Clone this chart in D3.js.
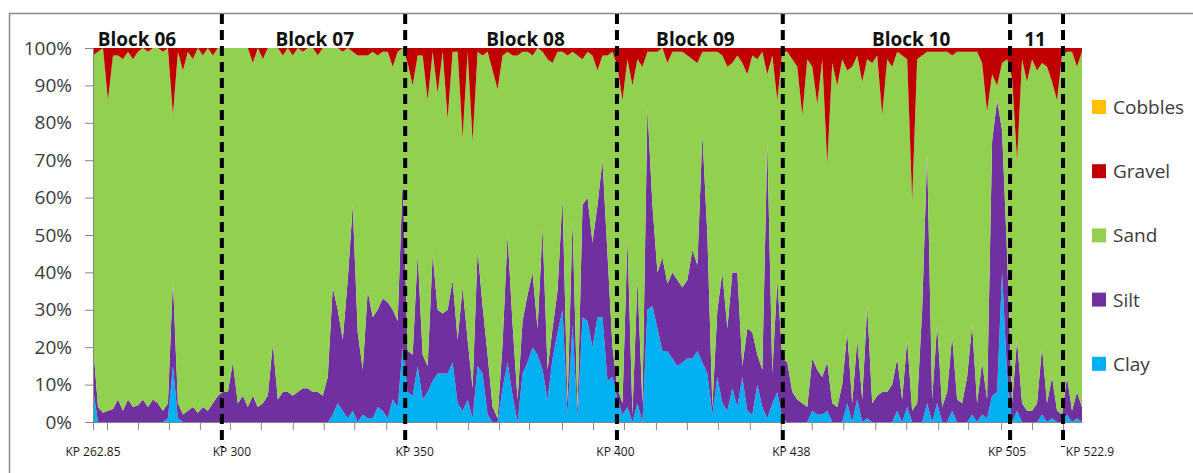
<!DOCTYPE html>
<html>
<head>
<meta charset="utf-8">
<script src="https://cdnjs.cloudflare.com/ajax/libs/d3/7.8.5/d3.min.js"></script>
<style>
    body { margin: 0; background: #fff; }
    #chart-area { width: 1193px; height: 473px; }
    text { font-family: "Open Sans", sans-serif; }
</style>
</head>
<body>
<div id="chart-area"></div>
<script>

// grain size fractions (%) per sample along the route
var clay = [9,0,0,0,0,0,0,0,0,0, 0,0,0,0,0,1,15,1,0,0, 0,0,0,0,0,0,0,0,0,0,
    0,0,0,0,0,0,0,0,0,0, 0,0,0,0,0,0,0,0,2,5, 3,1,3,0,2,1,1,4,3,1,
    6,4,20,8,7,15,6,8,11,13, 13,13,16,5,3,6,1,15,13,2, 0,0,9,16,7,0,13,16,20,18,
    14,6,17,24,30,2,26,1,28,27, 20,28,28,11,12,6,2,4,0,5, 0,30,31,25,19,19,17,15,16,17,
    17,19,16,13,2,12,5,3,9,4, 12,3,2,10,4,1,5,8,1,0, 0,0,0,0,3,2,2,3,0,0,
    0,5,0,6,0,1,0,0,0,0, 0,3,0,4,0,0,0,5,0,5, 0,0,3,0,0,0,2,0,2,1,
    7,8,40,13,0,3,0,0,0,0, 2,0,1,0,0,2,0,1,0];

var silt = [12,4,2.5,3,3.5,6,3,6,4,4.5, 6,4,6,5,3,4,23,4,2,3, 4,2.5,4,3,5,7,8,8,16,5,
    7,4,7,4,5,7,21,6,8,8, 7,8,9,9,8,8,7,12,34,25, 19,37,55,24,12,34,27,26,30,31,
    24,23,45,11,11,30,12,7,34,17, 16,17,22,17,33,16,8,31,18,16, 4,1,12,34,19,6,14,18,20,7,
    38,8,8,11,30,3,28,2,30,33, 28,30,42,34,8,3,3,45,2,33, 5,54,27,15,25,18,23,23,20,21,
    29,23,61,37,2,18,35,22,31,36, 3,22,22,8,10,74,8,30,16,16, 8,6,5,4,14,12,10,13,5,4,
    10,19,5,16,6,30,5,7,8,8, 10,14,6,18,3,5,30,67,6,21, 4,8,20,6,5,12,24,5,14,5,
    68,78,38,32,5,19,5,3,3,5, 18,5,11,3,2,10,3,7,4];

var sand = [77,95,97.5,83,94.5,92,94,93,93,94.5, 94,95,94,95,96,95,44,94,92,96, 93,97.5,94,97,93,93,92,92,84,95,
    93,96,89,96,92,93,79,94,90,92, 91,92,90,91,92,90,93,88,64,70, 77,62,41,74,84,63,71,68,66,67,
    65,72,35,77,72,53,80,71,54,58, 70,51,61,77,40,77,66,53,67,81, 90,88,77,49,72,92,72,65,58,75,
    47,83,71,64,39,93,45,95,39,39, 50,36,28,53,79,86,81,48,88,59, 90,15,41,59,56,59,59,61,63,60,
    51,54,22,49,95,69,58,70,56,58, 81,68,74,79,85,18,85,48,82,83, 89,89,77,93,78,71,85,53,91,86,
    87,70,90,76,85,66,91,91,74,89, 85,82,92,75,56,92,68,27,93,73, 95,91,75,93,94,87,73,94,80,77,
    18,4,18,52,87,48,92,88,94,89, 76,90,79,83,96,87,96,87,95];

var gravel = [2,1,0,14,2,2,3,1,3,1, 0,1,0,0,1,0,18,1,6,1, 3,0,2,0,2,0,0,0,0,0,
    0,0,4,0,3,0,0,0,2,0, 2,0,1,0,0,2,0,0,0,0, 1,0,1,2,2,2,1,2,1,1,
    5,1,0,4,10,2,2,14,1,12, 1,19,1,1,24,1,25,1,2,1, 6,11,2,1,2,2,1,1,2,0,
    1,3,4,1,1,2,1,2,3,1, 2,6,2,2,1,5,14,3,10,3, 5,1,1,1,0,4,1,1,1,2,
    3,4,1,1,1,1,2,5,4,2, 4,7,2,3,1,7,2,14,1,1, 3,5,18,3,5,15,3,31,4,10,
    3,6,5,2,9,3,4,2,18,3, 5,1,2,3,41,3,2,1,1,1, 1,1,2,1,1,1,1,1,4,17,
    7,10,4,3,8,30,3,9,3,6, 4,5,9,14,2,1,1,5,1];

var seriesKeys = ["clay", "silt", "sand", "gravel"];
var legendKeys = ["cobbles", "gravel", "sand", "silt", "clay"];
var legendLabels = ["Cobbles", "Gravel", "Sand", "Silt", "Clay"];
var yTicks = [0, 0.1, 0.2, 0.3, 0.4, 0.5, 0.6, 0.7, 0.8, 0.9, 1];

// sample positions of the category tick marks, the block boundaries and their labels
var axisTicks = [0, 2.8, 9, 15.2, 21.4, 27.4, 33.6, 40, 46.2, 52.3, 58.7, 68.7, 75.1, 81.3, 87.3, 93.9,
    100.1, 106.3, 112.7, 118.9, 125.1, 131.5, 137.7, 143.9, 150.2, 156.6, 162.8, 169.2, 175.2, 181.8, 188, 194.2];
var kpLines = [25.8, 62.5, 104.9, 138.1, 183.6, 194.2];
var kpLabels = ["KP 262.85", "KP 300", "KP 350", "KP 400", "KP 438", "KP 505", "KP 522.9"];
var kpLabelAt = [0, 27.8, 64.4, 104.6, 139.8, 183, 199.6];
var blockLabels = ["Block 06", "Block 07", "Block 08", "Block 09", "Block 10", "11"];
var blockAt = [8.8, 44.4, 86.6, 120.6, 163.8, 188.6];

var colors = {
    cobbles: "#FFC000",
    gravel: "#C00000",
    sand: "#92D050",
    silt: "#7030A0",
    clay: "#00B0F0"
};


SedimentChart = function(_parentElement) {
    this.parentElement = _parentElement;

    this.margin = { top: 48, right: 111, bottom: 51, left: 93 };
    this.width = 1193 - this.margin.left - this.margin.right;
    this.height = 473 - this.margin.top - this.margin.bottom;

    this.initVis();
}

/*
 *  Initialize svg, scales and frame
 */

SedimentChart.prototype.initVis = function() {
    var vis = this;

    vis.svg = d3.select("#" + vis.parentElement).append("svg")
        .attr("width", 1193)
        .attr("height", 473);

    // outer frame of the pasted figure
    vis.svg.append("path")
        .attr("d", "M9.5,473V13.5H1193")
        .attr("fill", "none")
        .attr("stroke", "#8a8a8a")
        .attr("stroke-width", 1.5);

    vis.g = vis.svg.append("g")
        .attr("transform", "translate(" + vis.margin.left + "," + vis.margin.top + ")");

    vis.x = d3.scaleLinear()
        .domain([0, clay.length - 1])
        .range([0, vis.width]);

    vis.y = d3.scaleLinear()
        .domain([0, 1])
        .range([vis.height, 0]);

    vis.wrangleData();
}

/*
 *  Data wrangling
 */

SedimentChart.prototype.wrangleData = function() {
    var vis = this;

    vis.displayData = clay.map(function(d, i) {
        return { clay: clay[i], silt: silt[i], sand: sand[i], gravel: gravel[i] };
    });

    vis.stacked = d3.stack()
        .keys(seriesKeys)
        .offset(d3.stackOffsetExpand)(vis.displayData);

    vis.updateVis();
}

/*
 *  The drawing function
 */

SedimentChart.prototype.updateVis = function() {
    var vis = this;

    var area = d3.area()
        .x(function(d, i) { return vis.x(i); })
        .y0(function(d) { return vis.y(d[0]); })
        .y1(function(d) { return vis.y(d[1]); });

    vis.g.selectAll(".layer")
        .data(vis.stacked)
        .enter()
        .append("path")
        .attr("class", "layer")
        .attr("fill", function(d) { return colors[d.key]; })
        .attr("d", area);

    // y axis
    var yAxis = d3.axisLeft(vis.y)
        .tickValues(yTicks)
        .tickFormat(d3.format(".0%"))
        .tickSize(8)
        .tickPadding(13);

    var yg = vis.g.append("g").call(yAxis);
    yg.select(".domain").attr("stroke", "#868686");
    yg.selectAll(".tick line").attr("stroke", "#868686");
    yg.selectAll(".tick text")
        .attr("fill", "#3b3b3b")
        .style("font-size", "19px");

    // category axis, no labels
    var xAxis = d3.axisBottom(vis.x)
        .tickValues(axisTicks)
        .tickFormat("")
        .tickSize(8)
        .tickSizeOuter(0);

    var xg = vis.g.append("g")
        .attr("transform", "translate(0," + vis.height + ")")
        .call(xAxis);
    xg.select(".domain").attr("stroke", "#868686");
    xg.selectAll(".tick line").attr("stroke", "#868686");

    // block boundaries
    vis.g.selectAll(".kp-line")
        .data(kpLines)
        .enter()
        .append("line")
        .attr("class", "kp-line")
        .attr("x1", function(d) { return vis.x(d); })
        .attr("x2", function(d) { return vis.x(d); })
        .attr("y1", -34)
        .attr("y2", vis.height + 25)
        .attr("stroke", "#000")
        .attr("stroke-width", 4)
        .attr("stroke-dasharray", "10,6");

    vis.g.selectAll(".kp-label")
        .data(kpLabels)
        .enter()
        .append("text")
        .attr("class", "kp-label")
        .attr("x", function(d, i) { return vis.x(kpLabelAt[i]); })
        .attr("y", vis.height + 34)
        .attr("text-anchor", "middle")
        .attr("fill", "#1a1a1a")
        .style("font-size", "12px")
        .text(function(d) { return d; });

    vis.g.selectAll(".block-label")
        .data(blockLabels)
        .enter()
        .append("text")
        .attr("class", "block-label")
        .attr("x", function(d, i) { return vis.x(blockAt[i]); })
        .attr("y", -2)
        .attr("text-anchor", "middle")
        .attr("fill", "#111")
        .style("font-size", "19px")
        .style("font-weight", "bold")
        .text(function(d) { return d; });

    // legend
    var legend = vis.svg.selectAll(".legend")
        .data(legendKeys)
        .enter()
        .append("g")
        .attr("class", "legend")
        .attr("transform", function(d, i) { return "translate(1092," + (107 + i * 64.2) + ")"; });

    legend.append("rect")
        .attr("x", 0)
        .attr("y", -7)
        .attr("width", 14)
        .attr("height", 14)
        .attr("fill", function(d) { return colors[d]; });

    legend.append("text")
        .attr("x", 21)
        .attr("y", 7)
        .attr("fill", "#3b3b3b")
        .style("font-size", "19px")
        .text(function(d, i) { return legendLabels[i]; });
};

var chart = new SedimentChart("chart-area");

</script>
</body>
</html>
